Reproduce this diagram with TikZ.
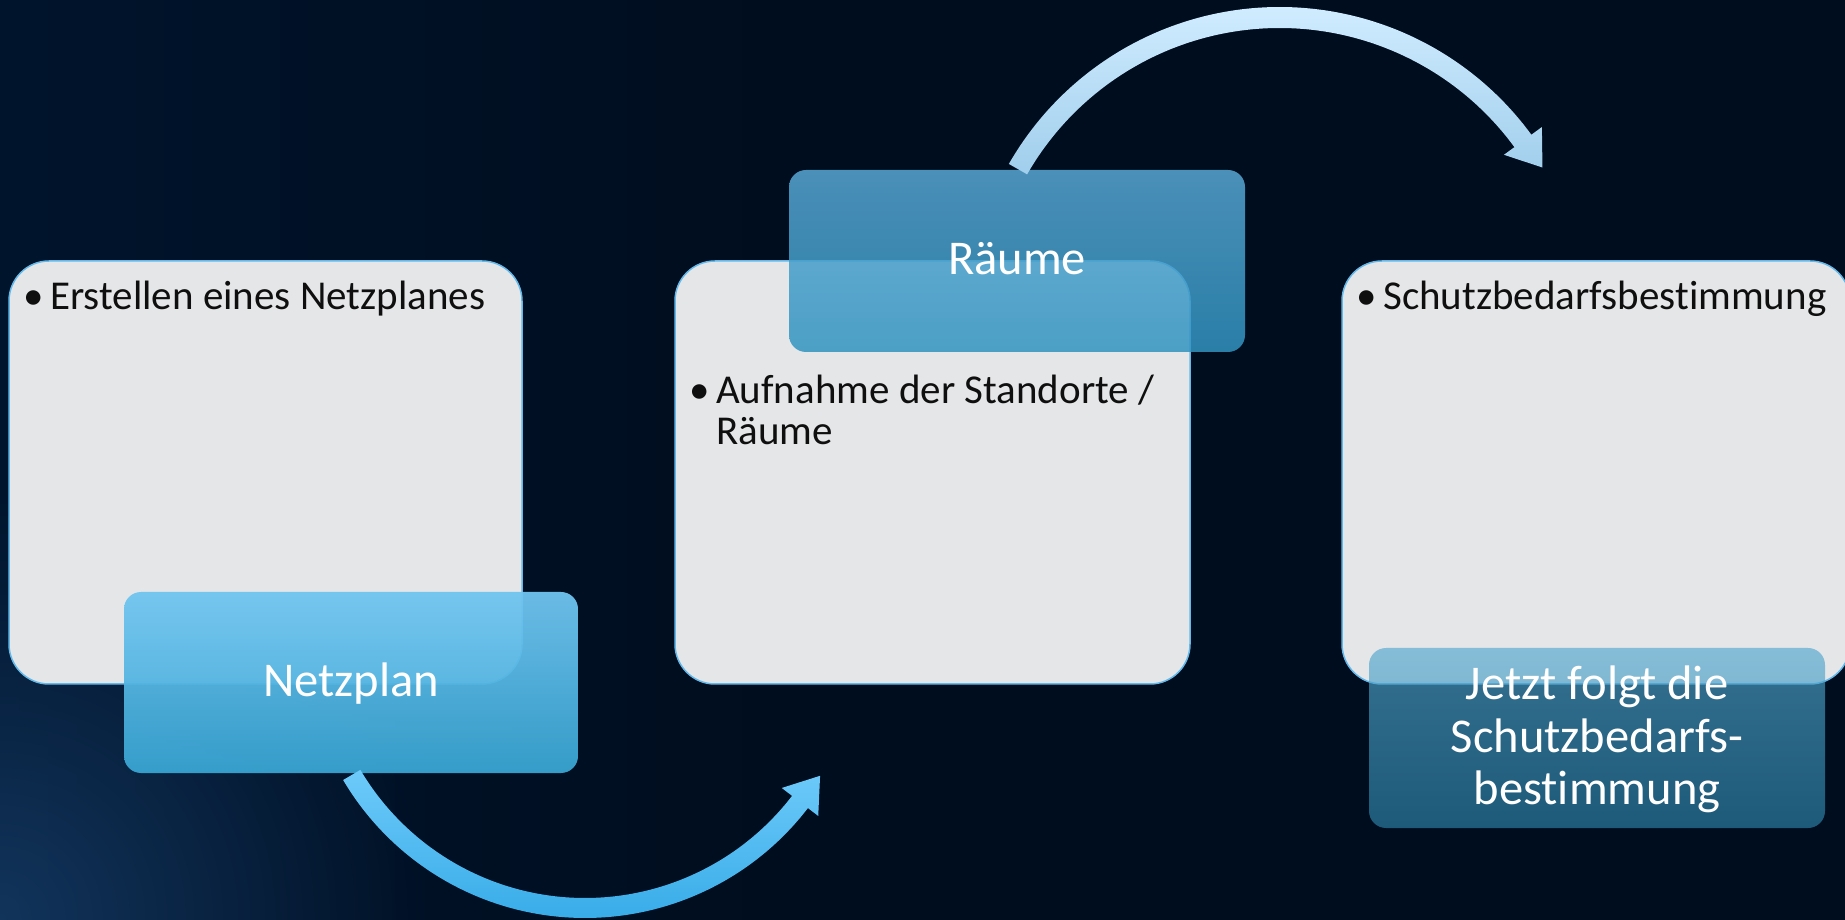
\documentclass[tikz,border=0pt]{standalone}
\usepackage{fontspec}
\setmainfont{Carlito}[RawFeature=-liga]
\usetikzlibrary{calc,fadings}
\definecolor{bgA}{RGB}{0,20,44}
\definecolor{bgB}{RGB}{0,13,30}
\definecolor{glow}{RGB}{40,92,150}
\definecolor{greyfill}{RGB}{229,230,232}
\definecolor{greyline}{RGB}{100,185,235}
\definecolor{npTop}{RGB}{112,197,240}
\definecolor{npMid}{RGB}{82,190,242}
\definecolor{npBot}{RGB}{56,164,210}
\definecolor{rmTop}{RGB}{88,167,212}
\definecolor{rmBot}{RGB}{49,147,192}
\definecolor{jzTop}{RGB}{82,166,206}
\definecolor{jzBot}{RGB}{46,132,172}
\definecolor{a1Top}{RGB}{110,202,250}
\definecolor{a1Bot}{RGB}{56,172,232}
\definecolor{a2Top}{RGB}{208,236,255}
\definecolor{a2Bot}{RGB}{160,206,236}
\definecolor{bodytext}{RGB}{15,15,15}
\tikzfading[name=softglow, inner color=transparent!0, outer color=transparent!100]
\newcommand\bul{\makebox[27pt][l]{\textbullet}}
\tikzset{
  greybox/.style={draw=greyline, line width=1.5pt, fill=greyfill, rounded corners=40pt, inner sep=0pt},
  labelbox/.style={rounded corners=17pt, inner sep=0pt},
  bodytxt/.style={inner sep=0pt, text=bodytext, font=\fontsize{41}{41}\selectfont},
  labeltxt/.style={inner sep=0pt, text=white, font=\fontsize{48.5}{52.5}\selectfont},
}
\begin{document}
\begin{tikzpicture}[x=1pt,y=1pt]
\useasboundingbox (0,0) rectangle (1845,919);
% background
\fill[bgB] (-10,-10) rectangle (1855,929);
\shade[left color=bgA, right color=bgB] (-10,-10) rectangle (800,929);
\begin{scope}
  \clip (-10,-10) rectangle (1855,929);
  \fill[glow, path fading=softglow, fill opacity=0.45] (-430,-430) rectangle (430,430);
\end{scope}

% grey content boxes
\node[greybox, minimum width=513pt, minimum height=423pt] (b1) at (265.5,446.5) {};
\node[greybox, minimum width=515pt, minimum height=423pt] (b2) at (932.5,446.5) {};
\node[greybox, minimum width=508pt, minimum height=423pt] (b3) at (1596,446.5) {};

% body texts
\node[bodytxt, anchor=base west] (t1) at (23,609) {\bul Erstellen eines Netzplanes};
\node[bodytxt, anchor=base west] (t2) at (689,515)
  {\begin{tabular}[t]{@{}l@{}l@{}}\bul & Aufnahme der Standorte /\\ & Räume\end{tabular}};
\node[bodytxt, anchor=base west] (t3) at (1356,609) {\bul Schutzbedarfsbestimmung};

% label boxes
\node[labelbox, shade, top color=npTop, middle color=npMid, bottom color=npBot, fill opacity=0.95,
      minimum width=454pt, minimum height=181pt] (np) at (351,236.5) {};
\node[labelbox, shade, top color=rmTop, bottom color=rmBot, fill opacity=0.85,
      minimum width=456pt, minimum height=182pt] (rm) at (1017,658) {};
\node[labelbox, shade, top color=jzTop, bottom color=jzBot, fill opacity=0.65,
      minimum width=456pt, minimum height=180pt] (jz) at (1597,181) {};

\node[labeltxt, anchor=base] (l1) at (np.center |- 0,222) {Netzplan};
\node[labeltxt, anchor=base] (l2) at (rm.center |- 0,644) {Räume};
\node[labeltxt, anchor=base] (l3) at (jz.center |- 0,219)
  {\begin{tabular}[t]{@{}c@{}}Jetzt folgt die\\Schutzbedarfs-\\bestimmung\end{tabular}};

% curved arrows
\coordinate (c1) at (585,282);
\shade[top color=a1Top, bottom color=a1Bot]
  ($(c1)+(210.6:281pt)$) arc[start angle=210.6, end angle=322.5, radius=281pt]
  -- ($(c1)+(322.5:294pt)$)
  -- ($(c1)+(322.5:271pt)+(52.5:33pt)$)
  -- ($(c1)+(322.5:248pt)$)
  -- ($(c1)+(322.5:261pt)$)
  arc[start angle=322.5, end angle=210.6, radius=261pt] -- cycle;

\coordinate (c2) at (1279.6,600);
\shade[top color=a2Top, bottom color=a2Bot]
  ($(c2)+(150.2:312pt)$) arc[start angle=150.2, end angle=36.2, radius=312pt]
  -- ($(c2)+(36.2:325pt)$)
  -- ($(c2)+(36.2:301.6pt)+(-53.8:33pt)$)
  -- ($(c2)+(36.2:278pt)$)
  -- ($(c2)+(36.2:291pt)$)
  arc[start angle=36.2, end angle=150.2, radius=291pt] -- cycle;
\end{tikzpicture}
\end{document}
